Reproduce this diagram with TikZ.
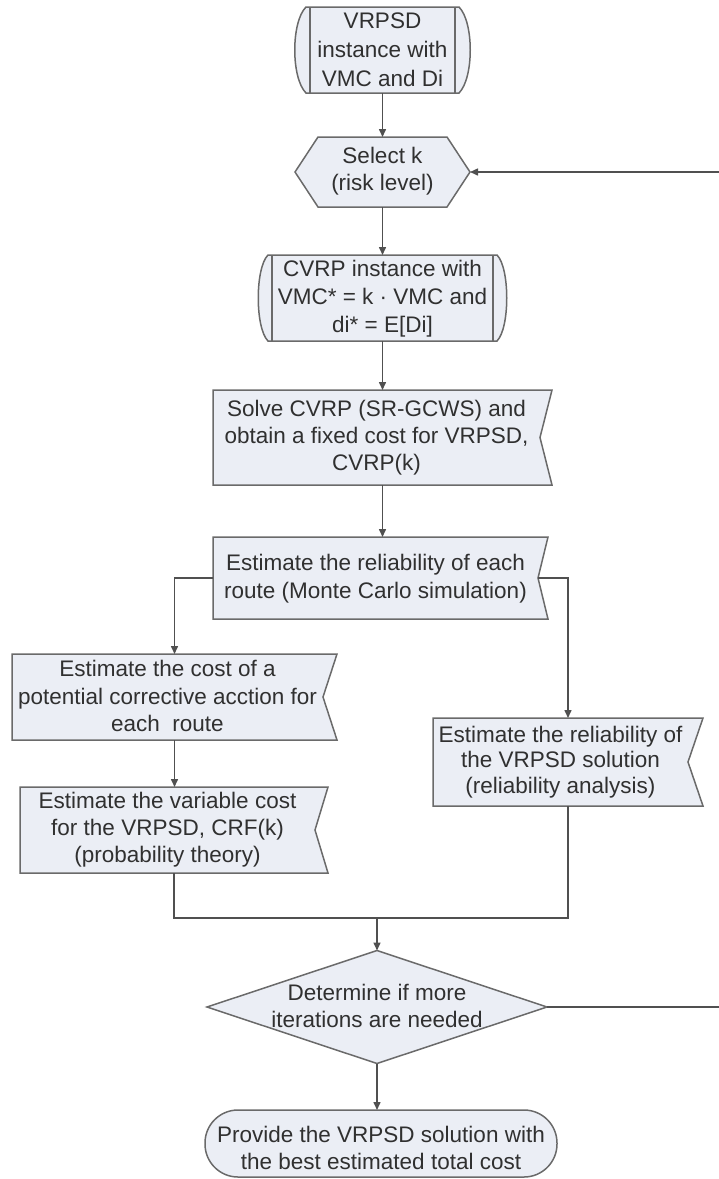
\documentclass[tikz,border=0pt]{standalone}
\usepackage{fontspec}
\setmainfont{Liberation Sans}
\usetikzlibrary{arrows.meta}
\definecolor{boxfill}{HTML}{EBEEF5}
\definecolor{edgec}{HTML}{6A6A6A}
\definecolor{linec}{HTML}{505050}
\definecolor{textc}{HTML}{303030}
\tikzset{
  shp/.style={fill=boxfill, draw=edgec, line width=1.5pt, line join=miter},
  shpline/.style={draw=edgec, line width=1.5pt},
  frame/.style={draw=none, inner sep=0pt, outer sep=0pt},
  txt/.style={text=textc, align=center, inner sep=0pt, font=\fontsize{22.5}{27}\selectfont},
  conn/.style={draw=linec, line width=1.5pt},
  arr/.style={conn, -{Triangle[length=8pt,width=7pt]}},
}
% L R T B notch
\newcommand\docbox[5]{%
  \path[shp] (#1,#3) -- (#2,#3) -- (#5,{(#3+#4)/2}) -- (#2,#4) -- (#1,#4) -- cycle;}
% L R T B e c
\newcommand\procbox[6]{%
  \path[shp] ({#1-#5},#3) -- ({#2+#5},#3)
     .. controls ({#2+#5+#6},{#3+#6}) and ({#2+#5+#6},{#4-#6}) .. ({#2+#5},#4)
     -- ({#1-#5},#4)
     .. controls ({#1-#5-#6},{#4-#6}) and ({#1-#5-#6},{#3+#6}) .. cycle;
  \draw[shpline] (#1,#3) -- (#1,#4) (#2,#3) -- (#2,#4);}
\begin{document}
\begin{tikzpicture}[x=1pt,y=-1pt]
\useasboundingbox (0,0) rectangle (719,1179);
\clip (0,0) rectangle (719,1179);

% ---- shapes
\procbox{310}{455}{7}{93}{4}{15}
\path[shp] (295,172) -- (318,137) -- (447,137) -- (470,172) -- (447,207) -- (318,207) -- cycle;
\procbox{272}{493}{255}{341}{4}{13}
\docbox{213}{552}{390}{485}{540}
\docbox{213}{548}{537}{619}{538}
\docbox{12}{337}{654}{740}{323}
\docbox{20}{328}{787}{873}{315}
\docbox{433}{703}{718}{806}{688}
\path[shp] (207,1007) -- (377,950.5) -- (547,1007) -- (377,1063.5) -- cycle;
\path[shp, rounded corners=33pt] (205,1110) rectangle (557,1177);

% ---- frame nodes (for connectors)
\node[frame, minimum width=145pt, minimum height=86pt] (b1) at (382.5,50) {};
\node[frame, minimum width=175pt, minimum height=70pt] (b2) at (382.5,172) {};
\node[frame, minimum width=221pt, minimum height=86pt] (b3) at (382.5,298) {};
\node[frame, minimum width=339pt, minimum height=95pt] (b4) at (382.5,437.5) {};
\node[frame, minimum width=335pt, minimum height=82pt] (b5) at (380.5,578) {};
\node[frame, minimum width=325pt, minimum height=86pt] (cost) at (174.5,697) {};
\node[frame, minimum width=308pt, minimum height=86pt] (var) at (174,830) {};
\node[frame, minimum width=270pt, minimum height=88pt] (rel) at (568,762) {};
\node[frame, minimum width=340pt, minimum height=113pt] (dec) at (377,1007) {};
\node[frame, minimum width=352pt, minimum height=67pt] (end) at (381,1143.5) {};

% ---- texts
\node[txt, font=\fontsize{22.5}{29}\selectfont] (t1) at (382.5,50) {VRPSD\\instance with\\VMC and Di};
\node[txt] (t2) at (382.5,171) {Select k\\(risk level)};
\node[txt, font=\fontsize{22.5}{28}\selectfont] (t3) at (382.5,299) {CVRP instance with\\VMC* = k · VMC and\\di* = E[Di]};
\node[txt] (t4) at (376.5,438) {Solve CVRP (SR-GCWS) and\\obtain a fixed cost for VRPSD,\\CVRP(k)};
\node[txt, font=\fontsize{22.5}{28}\selectfont] (t5) at (375.5,579) {Estimate the reliability of each\\route (Monte Carlo simulation)};
\node[txt, font=\fontsize{22.5}{27.5}\selectfont] (t6) at (167.5,696) {Estimate the cost of a\\potential corrective acction for\\each~ route};
\node[txt] (t7) at (167.5,830) {Estimate the variable cost\\for the VRPSD, CRF(k)\\(probability theory)};
\node[txt, font=\fontsize{22.5}{25.5}\selectfont] (t8) at (560.5,762) {Estimate the reliability of\\the VRPSD solution\\(reliability analysis)};
\node[txt] (t9) at (377,1006) {Determine if more\\iterations are needed};
\node[txt] (t10) at (381,1148) {Provide the VRPSD solution with\\the best estimated total cost};

% ---- connectors
\coordinate (n5) at (538,578);
\coordinate (j) at (377,918);
\coordinate (fb) at (735,172);
\draw[arr] (b1.south) -- (b2.north);
\draw[arr] (b2.south) -- (b3.north);
\draw[arr] (b3.south) -- (b4.north);
\draw[arr] (b4.south) -- (b4.south |- b5.north);
\draw[arr] (b5.west) -| (cost.north);
\draw[arr] (n5) -| (rel.north);
\draw[arr] (cost.south) -- (cost.south |- var.north);
\draw[conn] (var.south) |- (j) -| (rel.south);
\draw[arr] (j) -- (dec.north);
\draw[arr] (dec.south) -- (dec.south |- end.north);
\draw[arr] (dec.east) -| (fb) -- (b2.east);
\end{tikzpicture}
\end{document}
